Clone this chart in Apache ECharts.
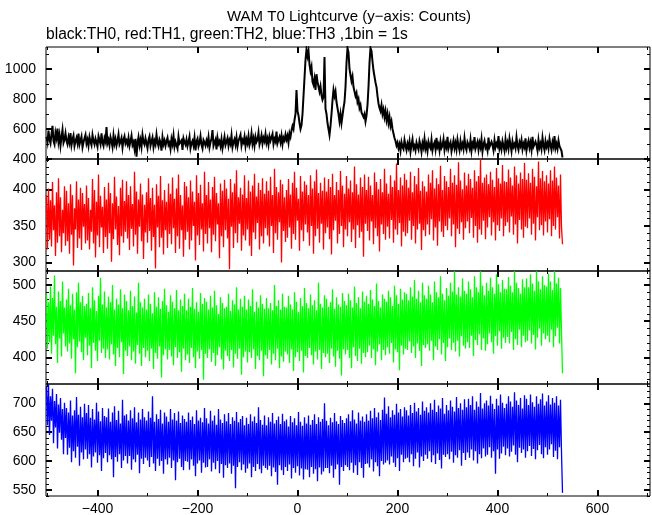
<!DOCTYPE html>
<html><head><meta charset="utf-8">
<script src="https://cdn.jsdelivr.net/npm/echarts@6/dist/echarts.min.js"></script>
<style>html,body{margin:0;padding:0;background:#fff}#c{width:652px;height:515px}</style>
</head><body><div id="c"></div>
<script>
const titleText = 'WAM T0 Lightcurve (y\u2212axis: Counts)';
const subtitleText = 'black:TH0, red:TH1, green:TH2, blue:TH3 ,1bin = 1s';
// time of first bin (s) and bin spacing used for the listed values
const binStart = -502, binWidth = 2;

const th0 = [
548,512,590,530,505,566,621,520,498,575,540,602,515,560,489,547,595,508,530,572,
520,498,545,510,573,492,530,556,487,518,541,505,569,496,523,550,478,512,538,561,
503,529,488,547,515,492,560,521,497,535,510,482,552,526,498,571,509,487,539,516,
613,505,528,491,546,518,480,557,502,534,489,521,563,497,515,540,476,528,551,503,
522,498,541,487,519,555,493,512,468,535,415,508,546,490,527,481,560,514,496,538,
505,472,529,551,488,516,543,479,520,497,562,508,484,531,512,456,545,499,523,487,
518,541,494,509,467,533,500,556,482,515,528,470,549,503,491,524,460,537,512,495,
530,486,513,548,472,505,521,490,542,458,517,535,484,508,553,495,470,526,511,489,
523,497,545,478,512,536,593,488,510,529,464,541,502,519,486,533,471,508,548,493,
516,539,487,524,501,558,479,513,532,496,545,484,520,507,562,490,527,511,549,486,
531,505,553,492,518,571,500,536,488,547,514,529,575,497,523,558,502,540,519,566,
508,537,495,551,522,510,567,499,534,516,582,505,528,547,512,556,498,541,524,563,
530,555,510,572,548,590,620,600,660,700,860,720,690,640,600,625,700,820,940,1060,
1130,1085,1120,1030,985,1015,915,895,935,860,965,915,905,850,885,825,795,815,1080,735,
700,640,600,560,620,700,790,860,820,850,780,740,700,650,700,640,690,740,780,880,
1040,1140,1110,1000,960,920,950,880,850,820,840,780,800,740,760,710,720,680,700,650,
690,760,880,1040,1140,1120,1050,990,950,910,880,820,770,740,720,760,700,730,680,720,
660,700,640,680,620,650,600,570,540,520,490,510,
472,498,455,512,481,466,527,490,459,503,476,518,449,495,532,470,488,457,509,483,
462,520,491,447,506,478,535,468,497,452,514,486,471,529,458,493,510,465,541,480,
499,456,517,474,489,531,460,502,477,548,469,495,513,451,487,524,472,506,463,530,
488,457,519,476,501,466,538,482,459,512,494,470,527,455,503,484,546,468,491,515,
461,508,479,533,450,497,521,474,489,456,542,480,467,514,492,458,525,477,503,486,
553,470,498,463,519,487,455,531,476,508,468,536,494,452,517,481,499,471,544,486,
460,512,488,527,465,501,479,538,457,496,522,474,509,462,548,483,470,516,491,456,
528,478,503,466,541,489,459,519,482,506,470,534,493,461,514,485,552,472,500,467,
523,486,498,455,
410];

const th1 = [
392,318,401,331,385,322,410,344,378,309,396,327,415,336,389,314,372,340,404,323,
398,329,381,312,407,338,392,296,374,345,411,320,386,333,402,317,395,349,380,326,
405,330,388,318,372,342,414,326,399,307,383,337,420,321,391,348,376,313,403,335,
386,319,409,340,395,301,381,332,417,345,390,324,377,310,402,336,413,327,384,342,
411,333,392,317,404,346,380,322,424,338,397,312,386,349,408,329,393,305,379,341,
396,327,415,343,388,316,402,335,379,292,407,348,391,321,418,334,385,311,399,344,
383,320,408,339,394,325,416,347,387,313,401,336,420,319,392,344,378,308,410,331,
404,342,389,318,412,330,397,350,383,303,419,337,395,324,406,345,381,315,424,339,
392,326,410,347,386,314,403,338,417,329,395,352,381,306,408,336,398,321,413,344,
401,333,387,291,414,349,396,320,408,340,426,327,389,353,402,316,393,337,419,330,
388,345,412,323,397,309,405,341,421,332,390,354,409,318,399,336,415,326,394,347,
411,337,398,322,417,350,392,313,428,340,403,331,396,355,413,300,407,343,389,328,
399,334,414,348,393,319,409,339,424,331,402,357,387,316,418,344,397,329,411,352,
406,341,392,323,419,350,401,312,411,336,427,346,395,327,409,353,398,318,416,340,
397,348,414,332,403,311,421,344,392,357,410,326,399,339,425,350,405,321,394,345,
418,336,401,355,412,328,396,345,431,320,407,351,393,334,416,342,403,308,420,353,
399,343,417,330,405,356,392,325,423,347,410,336,400,315,414,352,396,339,428,331,
408,349,394,333,419,358,403,327,412,345,435,338,399,354,416,322,405,342,421,336,
413,340,402,357,424,331,396,350,418,326,407,345,429,353,398,317,411,344,404,336,
397,352,420,338,409,359,426,330,401,348,415,323,407,356,432,342,399,335,418,350,
411,344,403,360,428,336,409,352,419,321,406,346,437,339,412,355,400,331,423,347,
405,356,421,340,414,361,402,334,426,350,411,327,418,345,441,338,409,357,416,332,
420,348,407,362,424,337,413,355,403,330,429,351,415,343,408,360,433,336,411,350,
410,355,427,341,416,363,405,338,431,352,419,326,408,358,423,345,414,334,436,349,
413,347,422,360,409,338,428,353,417,330,404,362,438,344,415,351,425,337,411,356,
419,341,408,359,426,336,412,350,431,345,416,362,405,333,420,348,
325];

const th2 = [
487,412,476,421,498,405,482,430,513,418,470,392,491,426,478,401,505,433,469,415,
480,408,495,419,472,398,488,425,466,378,490,414,503,422,476,407,485,396,471,427,
474,403,489,416,468,385,497,420,479,409,464,395,485,423,510,406,473,412,491,399,
469,411,484,397,476,418,500,404,466,388,481,413,473,400,494,421,468,377,487,409,
478,402,465,415,492,396,471,408,484,391,462,417,503,405,476,388,469,413,481,400,
466,409,487,395,474,412,461,384,490,406,470,398,483,415,467,372,478,403,495,411,
472,397,463,410,486,401,477,389,468,414,493,399,465,407,480,380,471,412,488,396,
465,404,481,392,470,413,496,400,467,385,476,408,463,398,489,410,474,369,482,405,
477,399,466,411,485,394,469,406,492,388,472,403,460,414,483,397,475,383,468,409,
470,402,488,395,464,410,479,386,473,405,497,398,466,412,481,376,470,400,485,408,
466,393,480,407,471,399,494,411,463,384,477,402,469,396,486,409,474,374,467,403,
482,398,468,410,475,390,465,405,500,396,471,412,479,385,466,401,488,394,470,408,
469,404,485,392,473,411,466,381,490,400,477,407,463,395,482,409,471,379,496,402,
475,399,468,413,487,403,472,390,479,408,465,397,503,410,474,384,469,406,486,400,
481,405,470,392,476,412,494,401,467,387,483,409,473,398,470,375,489,411,478,404,
472,410,488,399,479,385,469,414,498,402,475,395,483,412,468,391,491,406,477,400,
485,407,474,416,493,399,480,411,471,389,502,408,478,418,469,396,487,410,481,403,
477,414,492,405,483,420,471,393,499,411,486,407,474,382,495,416,480,404,490,412,
488,410,479,422,497,406,484,415,507,399,481,419,492,409,476,388,503,417,486,413,
481,418,499,409,487,423,476,396,505,415,490,410,483,425,512,404,488,420,479,395,
496,414,485,426,503,410,491,420,519,408,487,423,497,401,484,429,509,416,492,412,
488,421,505,413,494,430,483,402,512,424,497,417,490,432,519,410,499,426,486,409,
503,418,492,433,510,421,497,405,488,429,515,416,501,436,490,412,507,427,495,420,
494,428,511,419,499,435,490,410,519,425,503,417,496,438,488,414,508,430,497,421,
509,423,497,437,515,419,502,431,492,411,519,427,505,440,494,416,512,433,500,425,
498,430,516,421,505,438,493,414,519,429,502,441,510,419,496,435,
378];

const th3 = [
728,662,733,645,712,670,725,631,704,658,716,622,698,649,709,637,690,612,701,640,
692,611,684,623,705,598,679,617,688,606,711,625,680,592,694,615,676,603,699,620,
683,604,697,612,675,589,690,608,672,615,701,597,686,610,669,583,692,605,678,614,
676,598,691,610,668,603,684,572,695,607,671,599,687,612,665,588,706,601,679,609,
681,596,670,609,688,585,674,603,693,598,667,611,684,579,672,604,690,595,676,606,
670,601,686,590,675,607,712,596,668,583,681,604,673,592,689,600,665,578,684,603,
677,594,668,606,690,588,672,601,683,567,670,598,686,604,666,590,679,584,673,600,
668,599,684,585,671,603,677,592,664,574,688,596,670,601,675,580,667,597,692,589,
674,590,665,603,687,582,670,597,679,586,663,600,690,579,672,595,666,571,681,593,
669,588,683,596,664,578,676,592,670,553,685,590,667,598,673,584,678,594,662,580,
675,587,664,596,681,572,669,590,677,583,666,595,693,586,671,579,663,592,679,588,
662,585,676,592,668,574,683,589,665,581,671,559,677,593,664,584,682,576,669,590,
672,583,660,594,678,570,667,588,674,580,662,591,685,575,668,587,661,568,676,586,
665,585,679,572,663,590,671,578,681,586,664,565,676,589,668,577,673,582,700,588,
670,588,662,579,675,592,667,571,683,586,669,594,664,559,678,590,671,583,666,593,
674,590,681,584,669,597,688,580,672,593,665,576,684,598,670,588,677,571,668,595,
681,596,670,589,687,603,674,582,692,598,676,591,684,574,671,600,689,594,710,597,
682,601,695,594,676,608,688,597,680,590,699,605,684,583,690,611,677,598,693,604,
688,606,679,598,697,612,683,591,701,604,686,615,692,589,680,608,703,600,687,611,
693,604,684,617,700,598,689,610,706,595,685,613,696,602,691,587,709,611,682,607,
697,612,688,603,705,616,694,597,686,610,711,606,692,619,700,592,689,614,707,602,
693,615,708,606,697,620,712,601,689,617,703,596,694,612,718,605,691,622,700,608,
705,611,696,624,713,606,699,617,690,578,708,620,696,604,715,613,701,625,692,610,
699,622,712,608,703,616,694,627,719,611,705,598,697,623,709,614,691,620,714,606,
708,617,697,626,715,609,702,621,694,603,712,619,699,628,707,612,717,605,696,624,
703,611,714,620,698,629,709,607,701,618,712,603,696,624,706,615,
545];

const seriesNames = ['TH0','TH1','TH2','TH3'];
const seriesColors = ['#000000','#ff0000','#00ff00','#0000ff'];
const xRange = [-503, 705];
const xMajorTicks = [-400,-200,0,200,400,600];
const xMinorTicks = [-500,-300,-100,100,300,500,700];
const yRanges = [[400,1146.7],[288.5,441.3],[363.1,519.4],[539.6,733.4]];
const yMajorTicks = [[400,600,800,1000],[300,350,400],[400,450,500],[550,600,650,700]];
const yMinorTicks = [
  [500,700,900,1100],
  [290,310,320,330,340,360,370,380,390,410,420,430,440],
  [370,380,390,410,420,430,440,460,470,480,490,510],
  [540,560,570,580,590,610,620,630,640,660,670,680,690,710,720,730]
];

const panelTops = [47,159,271,384];
const panelHeights = [112,112,113,112];
const FONT = '"Liberation Sans", Helvetica, Arial, sans-serif';
const allData = [th0, th1, th2, th3];

const grids = [], xAxes = [], yAxes = [], series = [];
const fmtMinus = v => String(v).replace('-', '\u2212');
const fmtPlain = v => String(v);
for (let g = 0; g < 4; g++) {
  grids.push({left:46, width:604, top:panelTops[g], height:panelHeights[g], show:true,
    borderColor:'#000', borderWidth:1, backgroundColor:'rgba(0,0,0,0)', containLabel:false, outerBoundsMode:'none'});
  const xb = {type:'value', gridIndex:g, min:xRange[0], max:xRange[1], splitLine:{show:false}, axisLine:{show:false, onZero:false}};
  const majT = {show:true, inside:true, length:6, lineStyle:{color:'#000', width:2}, customValues:xMajorTicks};
  const minT = {show:true, inside:true, length:3, lineStyle:{color:'#000', width:1}, customValues:xMinorTicks};
  xAxes.push(Object.assign({}, xb, {position:'bottom',
    axisLabel: g === 3 ? {show:true, customValues:xMajorTicks, formatter:fmtMinus, color:'#000', fontSize:14, fontFamily:FONT, margin:6} : {show:false},
    axisTick: majT}));
  xAxes.push(Object.assign({}, xb, {position:'bottom', axisLabel:{show:false}, axisTick:minT}));
  xAxes.push(Object.assign({}, xb, {position:'top', axisLabel:{show:false}, axisTick:majT}));
  xAxes.push(Object.assign({}, xb, {position:'top', axisLabel:{show:false}, axisTick:minT}));

  const yb = {type:'value', gridIndex:g, min:yRanges[g][0], max:yRanges[g][1], splitLine:{show:false}, axisLine:{show:false, onZero:false}};
  const ymajT = {show:true, inside:true, length:6, lineStyle:{color:'#000', width:2}, customValues:yMajorTicks[g]};
  const yminT = {show:true, inside:true, length:3, lineStyle:{color:'#000', width:1}, customValues:yMinorTicks[g]};
  yAxes.push(Object.assign({}, yb, {position:'left',
    axisLabel:{show:true, customValues:yMajorTicks[g], formatter:fmtPlain, color:'#000', fontSize:14, fontFamily:FONT, margin:10},
    axisTick: ymajT}));
  yAxes.push(Object.assign({}, yb, {position:'left', axisLabel:{show:false}, axisTick:yminT}));
  yAxes.push(Object.assign({}, yb, {position:'right', axisLabel:{show:false}, axisTick:ymajT}));
  yAxes.push(Object.assign({}, yb, {position:'right', axisLabel:{show:false}, axisTick:yminT}));

  series.push({name:seriesNames[g], type:'line', xAxisIndex:4*g, yAxisIndex:4*g,
    data: allData[g].map((v, i) => [binStart + i * binWidth, v]),
    showSymbol:false, symbol:'none', clip:true, silent:true, animation:false,
    lineStyle:{color:seriesColors[g], width: g === 0 ? 2 : 1.3, join:'miter'}, itemStyle:{color:seriesColors[g]}});
}

const chart = echarts.init(document.getElementById('c'), null, {renderer:'canvas'});
chart.setOption({
  animation:false,
  backgroundColor:'#fff',
  grid:grids, xAxis:xAxes, yAxis:yAxes, series:series,
  graphic:[
    {type:'text', x:349, y:17, style:{text:titleText, font:'15px ' + FONT, fill:'#000', textAlign:'center', textVerticalAlign:'middle'}},
    {type:'text', x:46, y:35, style:{text:subtitleText, font:'15.6px ' + FONT, fill:'#000', textAlign:'left', textVerticalAlign:'middle'}}
  ]
});
</script></body></html>
